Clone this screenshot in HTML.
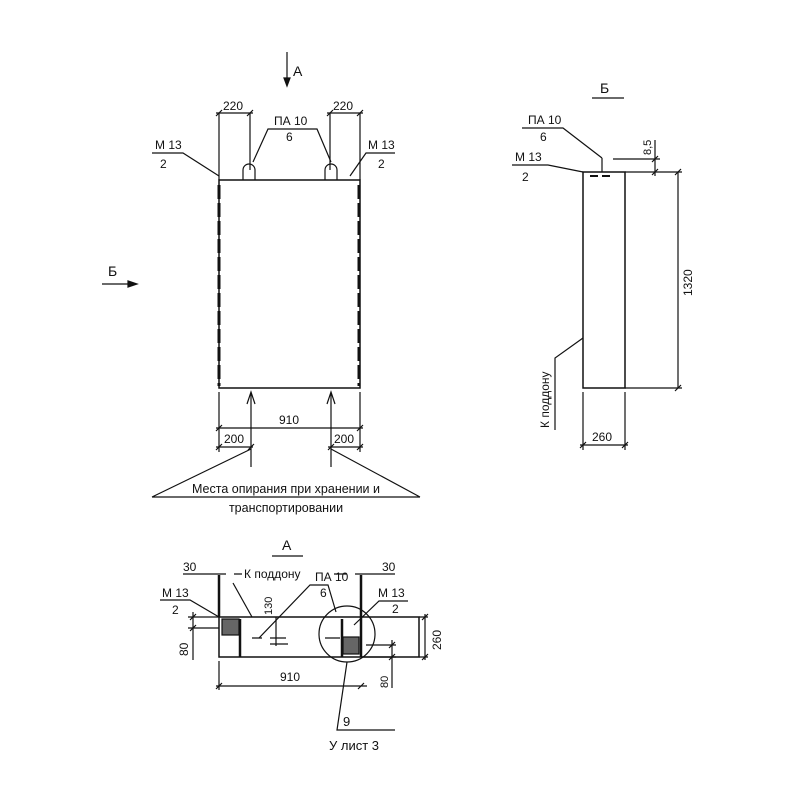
<!DOCTYPE html><html><head><meta charset="utf-8"><style>body{margin:0;background:#fff}svg{display:block}text{font-family:"Liberation Sans",sans-serif;fill:#111}</style></head><body>
<svg width="800" height="800" viewBox="0 0 800 800" stroke="#111" fill="none" stroke-width="1.2">
<!-- Front view -->
<line x1="287" y1="52" x2="287" y2="84"/><path d="M284 78 L287 86 L290 78Z" fill="#111"/>
<text x="293" y="76" font-size="14" stroke="none">А</text>
<rect x="219" y="180" width="141" height="208" stroke-width="1.5"/>
<line x1="219" y1="185" x2="219" y2="386" stroke-width="3" stroke-dasharray="14 4"/>
<line x1="359" y1="185" x2="359" y2="386" stroke-width="3" stroke-dasharray="14 4"/>
<path d="M243 180 v-10 a6 6 0 0 1 12 0 v10 M325 180 v-10 a6 6 0 0 1 12 0 v10"/>
<path d="M219 180 V113 M250 170 V113 M330 170 V113 M360 180 V113"/>
<line x1="216" y1="113" x2="253" y2="113"/><line x1="327" y1="113" x2="363" y2="113"/>
<path d="M216 116 l6 -6 M247 116 l6 -6 M327 116 l6 -6 M357 116 l6 -6"/>
<text x="223" y="110" font-size="12" stroke="none">220</text><text x="333" y="110" font-size="12" stroke="none">220</text>
<path d="M253 162 L268 129 H317 L331 162"/>
<text x="274" y="125" font-size="12" stroke="none">ПА 10</text><text x="286" y="141" font-size="12" stroke="none">6</text>
<path d="M152 153 H183 L219 176"/><text x="155" y="149" font-size="12" stroke="none">М 13</text><text x="160" y="168" font-size="12" stroke="none">2</text>
<path d="M395 153 H366 L350 176"/><text x="368" y="149" font-size="12" stroke="none">М 13</text><text x="378" y="168" font-size="12" stroke="none">2</text>
<text x="108" y="276" font-size="14" stroke="none">Б</text><line x1="102" y1="284" x2="134" y2="284"/><path d="M128 281 L137 284 L128 287Z" fill="#111"/>
<path d="M219 392 V452 M360 392 V452"/>
<line x1="216" y1="428" x2="363" y2="428"/><line x1="216" y1="447" x2="253" y2="447"/><line x1="328" y1="447" x2="363" y2="447"/>
<path d="M216 431 l6 -6 M357 431 l6 -6 M216 450 l6 -6 M248 450 l6 -6 M328 450 l6 -6 M357 450 l6 -6"/>
<text x="279" y="424" font-size="12" stroke="none">910</text><text x="224" y="443" font-size="12" stroke="none">200</text><text x="334" y="443" font-size="12" stroke="none">200</text>
<path d="M251 467 V394 M331 467 V394"/><path d="M247 404 L251 392 L255 404 M327 404 L331 392 L335 404"/>
<path d="M152 497 H420 M152 497 L251 449 M420 497 L331 449"/>
<text x="286" y="493" font-size="12.5" stroke="none" text-anchor="middle">Места опирания при хранении и</text>
<text x="286" y="512" font-size="12.5" stroke="none" text-anchor="middle">транспортировании</text>
<!-- Side view Б -->
<text x="600" y="93" font-size="14" stroke="none">Б</text><line x1="592" y1="98" x2="624" y2="98"/>
<rect x="583" y="172" width="42" height="216" stroke-width="1.5"/>
<path d="M602 172 V158 M522 128 H563 L602 158 M512 165 H548 L583 172"/>
<text x="528" y="124" font-size="12" stroke="none">ПА 10</text><text x="540" y="141" font-size="12" stroke="none">6</text>
<text x="515" y="161" font-size="12" stroke="none">М 13</text><text x="522" y="181" font-size="12" stroke="none">2</text>
<path d="M590 176 h8 M602 176 h8" stroke-width="2"/>
<path d="M613 159 H660 M625 172 H682 M655 140 V176 M678 172 V388 M625 388 H682"/>
<path d="M652 162 l6 -6 M652 175 l6 -6 M675 175 l6 -6 M675 391 l6 -6"/>
<text transform="translate(651,155) rotate(-90)" font-size="11" stroke="none">8,5</text>
<text transform="translate(692,296) rotate(-90)" font-size="12" stroke="none">1320</text>
<path d="M583 338 L555 358 V430"/>
<text transform="translate(549,428) rotate(-90)" font-size="12" stroke="none">К поддону</text>
<path d="M583 392 V450 M625 392 V450 M580 445 H628 M580 448 l6 -6 M622 448 l6 -6"/>
<text x="592" y="441" font-size="12" stroke="none">260</text>
<!-- Plan A -->
<text x="282" y="550" font-size="14" stroke="none">А</text><line x1="272" y1="556" x2="303" y2="556"/>
<rect x="219" y="617" width="200" height="40" stroke-width="1.5"/>
<line x1="219" y1="575" x2="219" y2="617" stroke-width="2.5"/>
<line x1="361" y1="575" x2="361" y2="657" stroke-width="2.5"/>
<path d="M183 574 H226 M234 574 H242 M355 574 H395 M347 574 H334"/>
<text x="183" y="571" font-size="12" stroke="none">30</text><text x="382" y="571" font-size="12" stroke="none">30</text>
<text x="244" y="578" font-size="12" stroke="none">К поддону</text>
<path d="M233 583 L252 617"/>
<rect x="222" y="619" width="17" height="16" fill="#666" stroke="#111"/>
<line x1="240" y1="619" x2="240" y2="657" stroke-width="2.5"/>
<rect x="343" y="637" width="16" height="17" fill="#666" stroke="#111"/>
<line x1="342" y1="619" x2="342" y2="657" stroke-width="2.5"/>
<path d="M252 638 H262 M270 638 H286 M276 617 V646 M270 644 H288"/>
<path d="M259 638 L310 585 H328 L336 612 M325 638 H340"/>
<text x="315" y="581" font-size="12" stroke="none">ПА 10</text><text x="320" y="597" font-size="12" stroke="none">6</text>
<text transform="translate(272,615) rotate(-90)" font-size="11" stroke="none">130</text>
<circle cx="347" cy="634" r="28"/>
<path d="M160 600 H190 L219 617 M408 601 H379 L354 625"/>
<text x="162" y="597" font-size="12" stroke="none">М 13</text><text x="172" y="614" font-size="12" stroke="none">2</text>
<text x="378" y="597" font-size="12" stroke="none">М 13</text><text x="392" y="613" font-size="12" stroke="none">2</text>
<path d="M188 617 H219 M188 628 H219 M190 620 l6 -6 M190 631 l6 -6 M193 612 V660"/>
<text transform="translate(188,656) rotate(-90)" font-size="12" stroke="none">80</text>
<path d="M419 617 H428 M419 657 H428 M425 614 V660 M422 620 l6 -6 M422 660 l6 -6"/>
<text transform="translate(441,650) rotate(-90)" font-size="12" stroke="none">260</text>
<path d="M366 645 H396 M361 657 H396 M392 640 V688 M389 648 l6 -6 M389 660 l6 -6"/>
<text transform="translate(388,688) rotate(-90)" font-size="11" stroke="none">80</text>
<path d="M219 661 V690 M216 686 H367 M216 689 l6 -6 M358 689 l6 -6"/>
<text x="280" y="681" font-size="12" stroke="none">910</text>
<path d="M347 662 L337 730 H395"/>
<text x="343" y="726" font-size="13" stroke="none">9</text>
<text x="329" y="750" font-size="13" stroke="none">У лист 3</text>
</svg></body></html>
